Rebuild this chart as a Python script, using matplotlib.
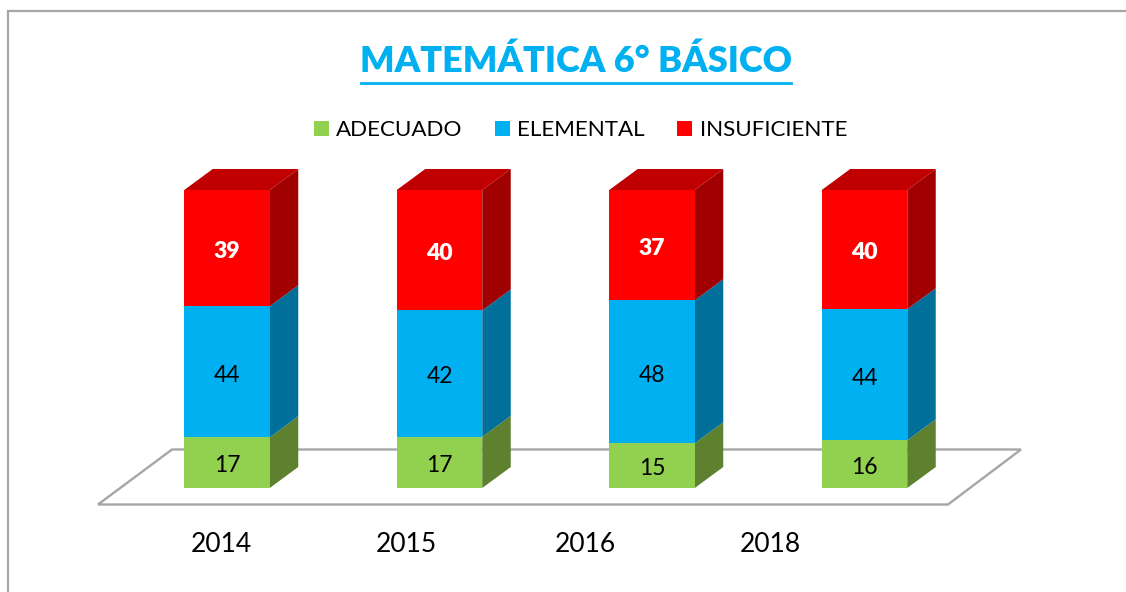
import numpy as np
import matplotlib
matplotlib.use('Agg')
import matplotlib.pyplot as plt
from matplotlib.patches import Polygon, Patch

plt.rcParams['font.family'] = ['Lato', 'DejaVu Sans']

# datos
anios = ['2014', '2015', '2016', '2018']
adecuado = [17, 17, 15, 16]
elemental = [44, 42, 48, 44]
insuficiente = [39, 40, 37, 40]
series = ['ADECUADO', 'ELEMENTAL', 'INSUFICIENTE']

colores = ['#92D050', '#00B0F0', '#FF0000']
laterales = ['#5E8130', '#00709A', '#A00000']
techo = '#C00000'
gris = '#A6A6A6'

W, H = 1126, 592
fig = plt.figure(figsize=(W / 100, H / 100), dpi=100)
ax = fig.add_axes([0, 0, 1, 1])

# escala: 212.5 px por categoria, 2.98 px por punto porcentual
px_x = 212.5
px_y = 2.98
ax.set_xlim(-227 / px_x, (W - 227) / px_x)
ax.set_ylim(-(H - 488) / px_y, 488 / px_y)
ax.axis('off')

ancho = 85.5 / px_x
dx = 28.5 / px_x
dy = 21 / px_y


# pasar pixeles de la imagen a datos, solo para marco y piso
def pix(x, y):
    return ((x - 227) / px_x, (488 - y) / px_y)


# marco
ax.plot(*zip(pix(8, H), pix(8, 11), pix(W, 11)), color=gris, lw=1.6, zorder=1,
        solid_joinstyle='miter', clip_on=False)

# piso
piso = [pix(98, 504.5), pix(948, 504.5), pix(1021, 449.5), pix(172, 449.5)]
ax.add_patch(Polygon(piso, closed=True, fill=False, edgecolor=gris, lw=1.7, zorder=1))

valores = np.array([adecuado, elemental, insuficiente], dtype=float)
porcentaje = valores / valores.sum(axis=0) * 100
xs = np.arange(len(anios))

base = np.zeros(len(anios))
for i, nombre in enumerate(series):
    alto = porcentaje[i]
    ax.bar(xs, alto, ancho, bottom=base, color=colores[i], linewidth=0, zorder=3)
    for j, x in enumerate(xs):
        der = x + ancho / 2
        lado = [(der, base[j]), (der + dx, base[j] + dy),
                (der + dx, base[j] + alto[j] + dy), (der, base[j] + alto[j])]
        ax.add_patch(Polygon(lado, closed=True, facecolor=laterales[i], edgecolor='none', zorder=2))
        color_txt = 'white' if i == 2 else 'black'
        peso = 'heavy' if i == 2 else 'normal'
        ax.text(x, base[j] + alto[j] / 2 - 1.1, f'{valores[i][j]:.0f}', ha='center', va='center',
                fontsize=16.5, color=color_txt, fontweight=peso, zorder=5)
    base = base + alto

# techo de las barras
for x, b in zip(xs, base):
    izq = x - ancho / 2
    der = x + ancho / 2
    ax.add_patch(Polygon([(izq, b), (der, b), (der + dx, b + dy), (izq + dx, b + dy)],
                         closed=True, facecolor=techo, edgecolor='none', zorder=2))

# etiquetas del eje (corridas respecto de las barras, igual que el original)
pos_etiquetas = [221, 406, 585, 770]
for etiqueta, px in zip(anios, pos_etiquetas):
    ax.text(*pix(px, 544), etiqueta, ha='center', va='center', fontsize=19, color='black')

# titulo
tx, ty = pix(576, 61)
ax.text(tx, ty, 'MATEMÁTICA 6° BÁSICO', ha='center', va='center', fontsize=26,
        fontweight='heavy', color='#00B0F0')
ax.plot(*zip(pix(361, 82.5), pix(791, 82.5)), color='#00B0F0', lw=2, zorder=2)

# leyenda
handles = [Patch(facecolor=c, edgecolor='none', label=n) for c, n in zip(colores, series)]
ax.legend(handles=handles, ncol=3, loc='center', bbox_to_anchor=(580.5 / W, 1 - 130 / H),
          frameon=False, fontsize=16.1, handlelength=0.67, handleheight=0.67,
          handletextpad=0.33, columnspacing=1.45, bbox_transform=fig.transFigure, borderpad=0)

fig.savefig('out.png', dpi=100)
